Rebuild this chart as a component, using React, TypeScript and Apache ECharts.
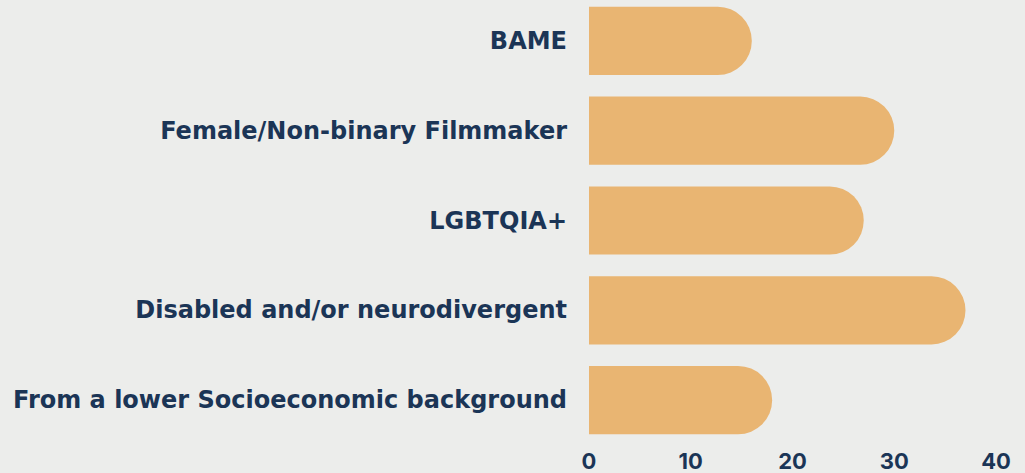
import React, { useEffect, useRef } from "react";
import * as echarts from "echarts";

const categories = [
  "BAME",
  "Female/Non-binary Filmmaker",
  "LGBTQIA+",
  "Disabled and/or neurodivergent",
  "From a lower Socioeconomic background",
];
const values = [16, 30, 27, 37, 18];
const tickValues = [0, 10, 20, 30, 40];

export default function App() {
  const ref = useRef<HTMLDivElement>(null);
  useEffect(() => {
    if (!ref.current) return;
    const chart = echarts.init(ref.current, undefined, { renderer: "svg" });
    chart.setOption({
      animation: false,
      backgroundColor: "#ECEDEB",
      grid: { left: 589, right: 29, top: 0, height: 449, containLabel: false },
      xAxis: {
        type: "value",
        min: tickValues[0],
        max: tickValues[tickValues.length - 1],
        interval: 10,
        splitLine: { show: false },
        axisLine: { show: false },
        axisTick: { show: false },
        axisLabel: {
          color: "#1B3556",
          fontFamily: "Inter",
          fontWeight: 700,
          fontSize: 22,
          lineHeight: 20,
          margin: 6,
        },
      },
      yAxis: {
        type: "category",
        data: categories,
        inverse: true,
        axisLine: { show: false },
        axisTick: { show: false },
        splitLine: { show: false },
        axisLabel: {
          color: "#1B3556",
          fontFamily: "DejaVu Sans",
          fontWeight: 700,
          fontSize: 24,
          margin: 22,
        },
      },
      series: [
        {
          type: "bar",
          data: values,
          barCategoryGap: "24%",
          itemStyle: { color: "#E9B572", borderRadius: [0, 34, 34, 0] },
        },
      ],
    });
    return () => chart.dispose();
  }, []);
  return (
    <div
      ref={ref}
      style={{ position: "fixed", left: 0, top: -4, width: 1025, height: 481 }}
    />
  );
}
